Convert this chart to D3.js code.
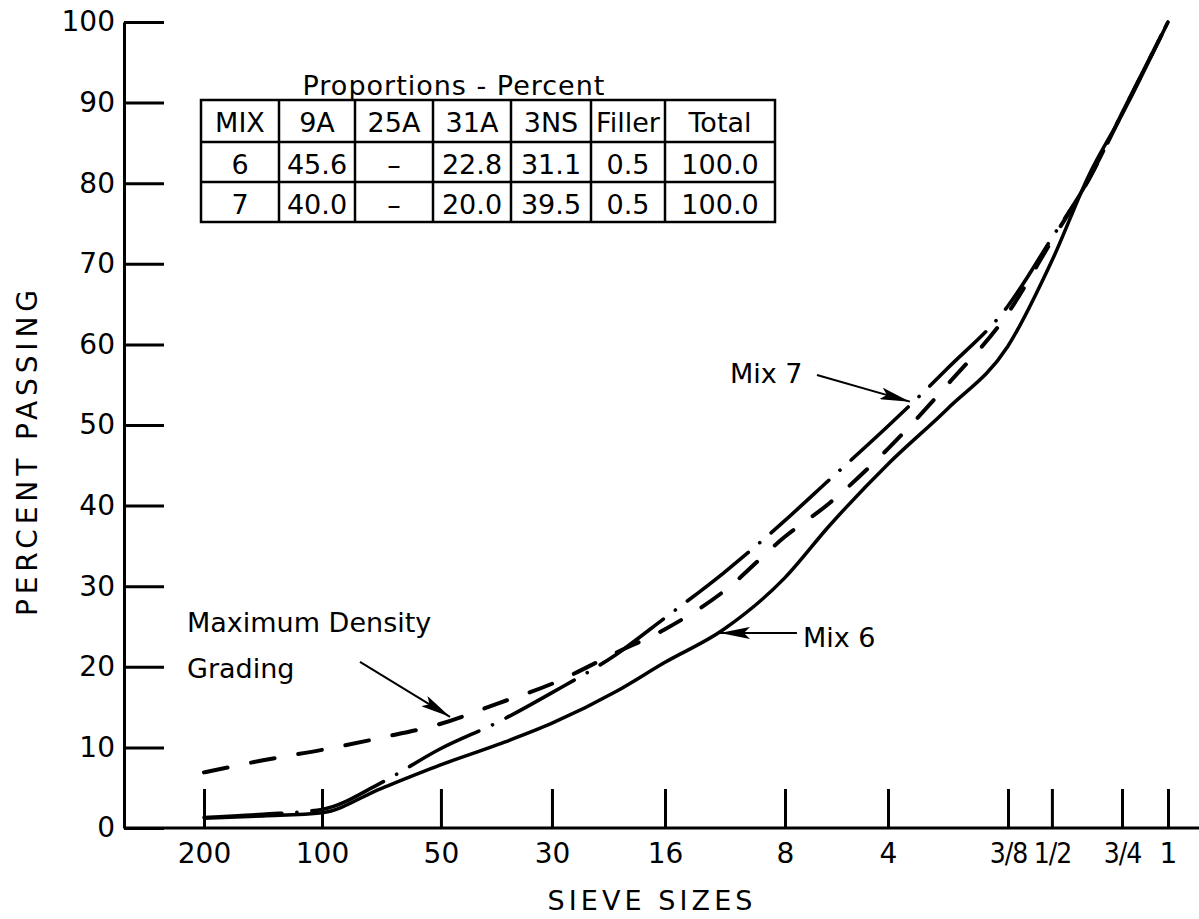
<!DOCTYPE html>
<html><head><meta charset="utf-8">
<script src="https://cdn.jsdelivr.net/npm/d3@7"></script>
<style>
body{margin:0;background:#fff}
svg{display:block;background:#fff}
text{font-family:"DejaVu Sans",sans-serif;fill:#000}
</style>
</head><body>
<svg id="c" width="1199" height="919"></svg>
<script>
// ---- data ----
const sieveLabels = ["200","100","50","30","16","8","4","3/8","1/2","3/4","1"];
// abscissa position of each sieve on the chart (in sieve-interval units)
const sievePositions = [0, 1, 2.008, 2.949, 3.907, 4.924, 5.797, 6.814, 7.186, 7.78, 8.17];
const yTicks = [0,10,20,30,40,50,60,70,80,90,100];

const curveX     = [0, 0.5, 1, 1.5, 2, 2.5, 2.95, 3.5, 3.9, 4.4, 4.92, 5.3, 5.8, 6.3, 6.81, 7.19, 7.5, 7.78, 8.17];
const mix6       = [1.2, 1.5, 1.9, 4.9, 7.8, 10.4, 13.0, 17.0, 20.5, 24.6, 31.0, 37.5, 45.2, 52.0, 59.7, 70.5, 81.0, 88.5, 100];
const mix7       = [1.3, 1.7, 2.3, 5.6, 9.8, 13.2, 16.8, 21.6, 26.0, 31.6, 38.1, 43.2, 49.9, 57.0, 64.7, 73.3, 80.5, 88.7, 100];
const maxDensity = [6.9, 8.4, 9.7, 11.2, 12.9, 15.5, 17.9, 21.8, 24.6, 29.3, 36.1, 40.3, 47.1, 55.0, 63.8, 73.0, 80.5, 88.6, 100];

const tableTitle  = "Proportions - Percent";
const tableHeader = ["MIX","9A","25A","31A","3NS","Filler","Total"];
const tableRow6   = ["6","45.6","\u2013","22.8","31.1","0.5","100.0"];
const tableRow7   = ["7","40.0","\u2013","20.0","39.5","0.5","100.0"];

const xTitle = "SIEVE SIZES";
const yTitle = "PERCENT PASSING";

// ---- layout ----
const W = 1199, H = 919;
const svg = d3.select("#c");
const x = d3.scaleLinear().domain([0, 8.17]).range([204, 1168]);
const y = d3.scaleLinear().domain([0, 100]).range([828, 22]);
const axisX0 = 124;

// x baseline (extends to right edge)
svg.append("line").attr("x1", axisX0).attr("x2", W).attr("y1", y(0)).attr("y2", y(0))
  .attr("stroke", "#000").attr("stroke-width", 3);

const labelOf = d => sieveLabels[sievePositions.indexOf(d)];
const xAxis = d3.axisBottom(x).tickValues(sievePositions)
  .tickFormat(labelOf)
  .tickSize(-39).tickSizeOuter(0).tickPadding(15);
const gx = svg.append("g").attr("transform", `translate(0,${y(0)})`).call(xAxis)
  .attr("font-family", null).attr("font-size", null);
gx.select(".domain").remove();
gx.selectAll(".tick line").attr("stroke", "#000").attr("stroke-width", 3);
gx.selectAll(".tick text").attr("font-size", 28).attr("fill", "#000")
  .style("font-family", d => labelOf(d).includes("/")
      ? "'DejaVu Sans Condensed','DejaVu Sans',sans-serif" : "'DejaVu Sans',sans-serif")
  .attr("letter-spacing", d => labelOf(d).includes("/") ? -1 : 0);

const yAxis = d3.axisLeft(y).tickValues(yTicks).tickSize(-40).tickSizeOuter(0).tickPadding(9);
const gy = svg.append("g").attr("transform", `translate(${axisX0},0)`).call(yAxis)
  .attr("font-family", null).attr("font-size", null);
gy.select(".domain").attr("stroke", "#000").attr("stroke-width", 3);
gy.selectAll(".tick line").attr("stroke", "#000").attr("stroke-width", 3);
gy.selectAll(".tick text").attr("font-size", 28).attr("fill", "#000");

// axis titles
svg.append("text").attr("x", 650).attr("y", 910).attr("text-anchor", "middle")
  .attr("font-size", 27).attr("textLength", 205).attr("lengthAdjust", "spacing").text(xTitle);
svg.append("text").attr("transform", "translate(37,453) rotate(-90)").attr("text-anchor", "middle")
  .attr("font-size", 28).attr("textLength", 326).attr("lengthAdjust", "spacing").text(yTitle);

// ---- curves ----
const line = d3.line().x((d, i) => x(curveX[i])).y(d => y(d)).curve(d3.curveMonotoneX);
svg.append("path").datum(maxDensity).attr("d", line).attr("fill", "none")
  .attr("stroke", "#000").attr("stroke-width", 4).attr("stroke-linecap", "round")
  .attr("stroke-dasharray", "24 24");
svg.append("path").datum(mix7).attr("d", line).attr("fill", "none")
  .attr("stroke", "#000").attr("stroke-width", 3.6).attr("stroke-linecap", "round")
  .attr("stroke-dasharray", "78 15 0.1 15");
svg.append("path").datum(mix6).attr("d", line).attr("fill", "none")
  .attr("stroke", "#000").attr("stroke-width", 3.5).attr("stroke-linejoin", "round");

// ---- annotations ----
const defs = svg.append("defs");
defs.append("marker").attr("id", "ah").attr("viewBox", "0 0 30 12").attr("refX", 30).attr("refY", 6)
  .attr("markerWidth", 30).attr("markerHeight", 12).attr("markerUnits", "userSpaceOnUse")
  .attr("orient", "auto")
  .append("path").attr("d", "M0,0 L30,6 L0,12 L6,6 Z").attr("fill", "#000");

function arrow(u1, v1, u2, v2) {
  svg.append("line").attr("x1", x(u1)).attr("y1", y(v1)).attr("x2", x(u2)).attr("y2", y(v2))
    .attr("stroke", "#000").attr("stroke-width", 2).attr("marker-end", "url(#ah)");
}
function label(u, v, t) {
  svg.append("text").attr("x", x(u)).attr("y", y(v)).attr("font-size", 27).text(t);
}
label(-0.144, 24.3, "Maximum Density");
label(-0.144, 18.6, "Grading");
arrow(1.322, 20.6, 2.085, 13.8);
label(4.458, 55.2, "Mix 7");
arrow(5.195, 56.2, 5.983, 52.9);
label(5.076, 22.5, "Mix 6");
arrow(5.025, 24.2, 4.373, 24.2);

// ---- table ----
const tblCols = [201, 279, 355, 433, 511, 591, 665, 775];
const tblRows = [100, 142, 182, 222];
const tg = svg.append("g");
tg.append("text").attr("x", 454).attr("y", 95).attr("text-anchor", "middle")
  .attr("font-size", 27).attr("letter-spacing", 1).text(tableTitle);
tg.append("rect").attr("x", tblCols[0]).attr("y", tblRows[0])
  .attr("width", tblCols[7] - tblCols[0]).attr("height", tblRows[3] - tblRows[0])
  .attr("fill", "none").attr("stroke", "#000").attr("stroke-width", 2.5);
tblCols.slice(1, -1).forEach(cx => tg.append("line").attr("x1", cx).attr("x2", cx)
  .attr("y1", tblRows[0]).attr("y2", tblRows[3]).attr("stroke", "#000").attr("stroke-width", 2.5));
tblRows.slice(1, -1).forEach(ry => tg.append("line").attr("y1", ry).attr("y2", ry)
  .attr("x1", tblCols[0]).attr("x2", tblCols[7]).attr("stroke", "#000").attr("stroke-width", 2.5));
[tableHeader, tableRow6, tableRow7].forEach((row, r) => {
  row.forEach((t, c) => {
    tg.append("text").attr("x", (tblCols[c] + tblCols[c + 1]) / 2).attr("y", tblRows[r] + 32)
      .attr("text-anchor", "middle").attr("font-size", 27).text(t);
  });
});
</script>
</body></html>
